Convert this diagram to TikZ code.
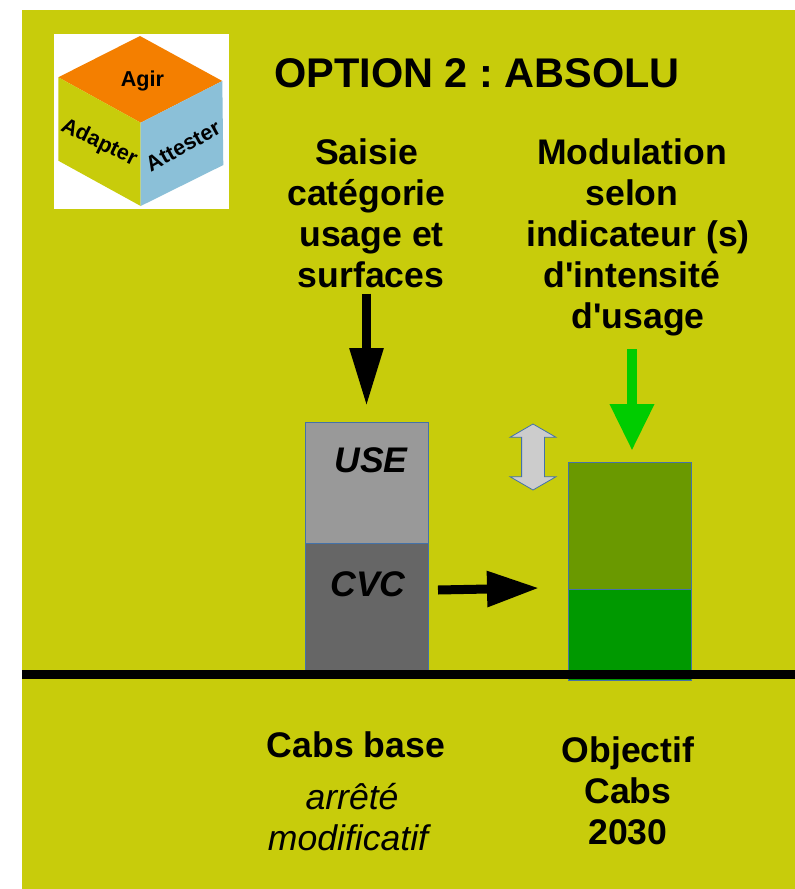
\documentclass[tikz,border=0pt]{standalone}
\usepackage{fontspec}
\setmainfont{Liberation Sans}
\frenchspacing
\usetikzlibrary{arrows.meta,chains,scopes,shapes.arrows}
\definecolor{panelcolor}{HTML}{C8CC0B}
\definecolor{agircolor}{HTML}{F47F00}
\definecolor{attestercolor}{HTML}{8BC0D8}
\definecolor{edgecolor}{HTML}{4472A8}
\definecolor{olivecolor}{HTML}{6A9900}
\definecolor{greencolor}{HTML}{009900}
\definecolor{brightcolor}{HTML}{00CC00}
\tikzset{
    bigtext/.style = {
        font=\fontsize{26.7}{30.75}\selectfont\bfseries,
        align=center,
        inner sep=0pt,
        },
    softtext/.style = {
        font=\fontsize{26.7}{30.75}\selectfont\itshape,
        align=center,
        inner sep=0pt,
        },
    stacktext/.style = {
        font=\fontsize{26.7}{30.75}\selectfont\bfseries\itshape,
        inner sep=0pt,
        },
    cubetext/.style = {
        font=\fontsize{16.2}{18}\selectfont\bfseries,
        inner sep=0pt,
        },
    StackBlock/.style = {
        draw=edgecolor,
        line width=0.75pt,
        minimum width=92.25pt,
        outer sep=0pt,
        },
    black flow/.style = {
        line width=6.75pt,
        -{Triangle[length=43.5pt,width=24pt]},
        },
    green flow/.style = {
        draw=brightcolor,
        line width=7.5pt,
        -{Triangle[length=35pt,width=31.5pt]},
        },
    side flow/.style = {
        line width=6.75pt,
        -{Triangle[length=39pt,width=25.5pt]},
        },
}
\begin{document}
\begin{tikzpicture}[
            x=0.75pt,
            y=-0.75pt,
            node distance = 0pt,
            ]
            \useasboundingbox (0,0) rectangle (795,889);
            \fill[white] (0,0) rectangle (795,889);
            \fill[panelcolor] (22,10) rectangle (795,889);

            % logo
            \fill[white] (54,34) rectangle (229,209);
            \fill[agircolor] (140,36) -- (222.3,81) -- (140.7,122.7) -- (58.3,77.3) -- cycle;
            \fill[panelcolor] (58.3,77.3) -- (140.7,122.7) -- (140.7,206) -- (58.3,160.7) -- cycle;
            \fill[attestercolor] (222.3,81) -- (140.7,122.7) -- (140.7,206) -- (223.3,165) -- cycle;
            \node[cubetext] (agir) at (142.5,81) {Agir};
            \node[cubetext,rotate=-26] (adapter) at (99,143) {Adapter};
            \node[cubetext,rotate=29] (attester) at (183,146) {Attester};

            \node[bigtext,font=\fontsize{31.1}{36}\selectfont\bfseries] (title) at (477,73) {OPTION 2 : ABSOLU};

            \node[bigtext] (saisie) at (366.5,213) {Saisie\\catégorie\\\hspace*{7.5pt}usage et\\\hspace*{6.75pt}surfaces};
            \node[bigtext] (modulation) at (632,237) {Modulation\\selon\\\hspace*{9pt}indicateur (s)\\d\textquotesingle intensité\\\hspace*{9pt}d\textquotesingle usage};

            % the two stacks
            { [start chain = going below]
            \node [StackBlock,on chain,minimum height=90.75pt,fill=black!40] (usebox) at (366.5,482.5) {};
            \node [StackBlock,on chain,minimum height=95.25pt,fill=black!60] (cvcbox) {};
            }
            { [start chain = going below]
            \node [StackBlock,on chain,minimum height=95.25pt,fill=olivecolor] (modbox) at (630,525.5) {};
            \node [StackBlock,on chain,minimum height=68.25pt,fill=greencolor] (basebox) {};
            }
            \node[stacktext] (use) at (371,460) {USE};
            \node[stacktext] (cvc) at (368,584) {CVC};

            \node[double arrow,draw=edgecolor,line width=0.6pt,fill=black!20,shape border rotate=90,
                  inner xsep=8.25pt,inner ysep=0pt,minimum height=49.5pt,
                  double arrow head extend=8.6pt,double arrow tip angle=120] (range) at (533,457) {};

            % connectors
            \coordinate (sideout) at (438,590);
            \coordinate (sidein) at (539,588);
            \draw[black flow,shorten <=4.25pt,shorten >=12pt] (saisie.south) -- (saisie.south |- usebox.north);
            \draw[green flow,shorten <=10pt,shorten >=8.5pt] (modulation.south) -- (modulation.south |- modbox.north);
            \draw[side flow] (sideout) -- (sidein);

            % ground line
            \coordinate (groundleft) at (22,674.5);
            \coordinate (groundright) at (795,674.5);
            \draw[line width=6.4pt] (groundleft) -- (groundright);

            \node[bigtext] (base) at (356,745) {Cabs base};
            \node[softtext] (arrete) at (348,817) {\hspace*{6pt}arrêté\\modificatif};
            \node[bigtext] (objectif) at (628,791) {Objectif\\Cabs\\2030};
\end{tikzpicture}
\end{document}
